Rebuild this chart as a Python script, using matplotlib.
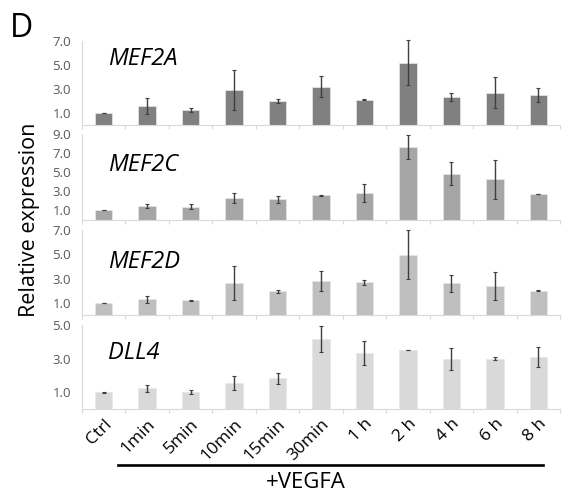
import numpy as np
import matplotlib
matplotlib.use("Agg")
import matplotlib.pyplot as plt
from matplotlib.transforms import blended_transform_factory
from matplotlib.lines import Line2D

plt.rcParams["font.family"] = ["Open Sans", "DejaVu Sans"]

categories = ["Ctrl", "1min", "5min", "10min", "15min", "30min",
              "1 h", "2 h", "4 h", "6 h", "8 h"]

genes = ["MEF2A", "MEF2C", "MEF2D", "DLL4"]

mef2a = [1.0, 1.6, 1.25, 2.9, 2.0, 3.2, 2.1, 5.2, 2.35, 2.7, 2.5]
mef2a_err = [0.03, 0.65, 0.2, 1.65, 0.2, 0.9, 0.05, 1.9, 0.35, 1.3, 0.6]

mef2c = [1.04, 1.46, 1.39, 2.3, 2.15, 2.57, 2.78, 7.64, 4.82, 4.24, 2.7]
mef2c_err = [0.02, 0.17, 0.25, 0.55, 0.4, 0.03, 0.95, 1.25, 1.2, 2.0, 0.03]

mef2d = [1.0, 1.28, 1.2, 2.65, 1.97, 2.81, 2.7, 4.97, 2.6, 2.4, 2.02]
mef2d_err = [0.02, 0.3, 0.03, 1.4, 0.12, 0.85, 0.2, 2.0, 0.7, 1.17, 0.08]

dll4 = [1.0, 1.25, 1.01, 1.57, 1.83, 4.17, 3.35, 3.51, 2.96, 3.0, 3.1]
dll4_err = [0.02, 0.21, 0.1, 0.42, 0.32, 0.78, 0.72, 0.02, 0.65, 0.08, 0.62]

y_max = [7, 9, 7, 5]
y_ticks = [[1, 3, 5, 7], [1, 3, 5, 7, 9], [1, 3, 5, 7], [1, 3, 5]]

values = [mef2a, mef2c, mef2d, dll4]
errors = [mef2a_err, mef2c_err, mef2d_err, dll4_err]

# layout (figure fractions) and styling
colors = ["#808080", "#a6a6a6", "#bfbfbf", "#d9d9d9"]
panel_bottom = [0.747, 0.5547, 0.3623, 0.172]
panel_height = [0.170, 0.1741, 0.172, 0.170]
label_y = [0.786, 0.64, 0.62, 0.667]
left, width = 0.1431, 0.8342

fig = plt.figure(figsize=(5.73, 4.94), dpi=100)
x = np.arange(len(categories))

axes = []
for i in range(4):
    ax = fig.add_axes([left, panel_bottom[i], width, panel_height[i]])
    ax.bar(x, values[i], width=0.4, color=colors[i], edgecolor="#e8e8e8",
           linewidth=0.5, zorder=2)
    eb = ax.errorbar(x, values[i], yerr=errors[i], fmt="none", ecolor="#3f3f3f",
                     elinewidth=1.0, capsize=1.5, capthick=0.8, zorder=3)
    for art in eb.lines[1] + eb.lines[2]:
        art.set_clip_on(False)
    ax.set_xlim(-0.5, len(categories) - 0.5)
    ax.set_ylim(0, y_max[i])
    ax.set_yticks(y_ticks[i])
    ax.set_yticklabels([f"{t:.1f}" for t in y_ticks[i]])
    ax.tick_params(axis="y", length=0, pad=8, labelsize=9.5, labelcolor="#595959")
    ax.set_xticks(x)
    ax.set_xticks(np.arange(len(categories) + 1) - 0.5, minor=True)
    ax.tick_params(axis="x", which="major", length=0)
    ax.tick_params(axis="x", which="minor", length=3, color="#d9d9d9", width=0.8)
    ax.set_xticklabels([])
    for s in ["top", "right"]:
        ax.spines[s].set_visible(False)
    ax.spines["left"].set_color("#d9d9d9")
    ax.spines["bottom"].set_color("#d9d9d9")
    ax.text(0.054, label_y[i], genes[i], transform=ax.transAxes,
            fontsize=17, style="italic", va="center", ha="left",
            family=["Open Sans", "DejaVu Sans"])
    axes.append(ax)

bottom_ax = axes[-1]
bottom_ax.set_xticklabels(categories, rotation=45, ha="right",
                          rotation_mode="anchor", fontsize=12.5)
bottom_ax.tick_params(axis="x", which="major", pad=5)

# +VEGFA bracket line under the treated samples
trans = blended_transform_factory(bottom_ax.transData, fig.transFigure)
fig.add_artist(Line2D([0.33, 10.11], [1 - 465 / 494, 1 - 465 / 494],
                      transform=trans, color="black", linewidth=1.9))
fig.text(0.534, 0.024, "+VEGFA", ha="center", va="center", fontsize=16)

fig.text(0.052, 0.555, "Relative expression", rotation=90,
         ha="center", va="center", fontsize=15.5)
fig.text(0.018, 0.943, "D", ha="left", va="center", fontsize=23)

fig.savefig("out.png", dpi=100)
